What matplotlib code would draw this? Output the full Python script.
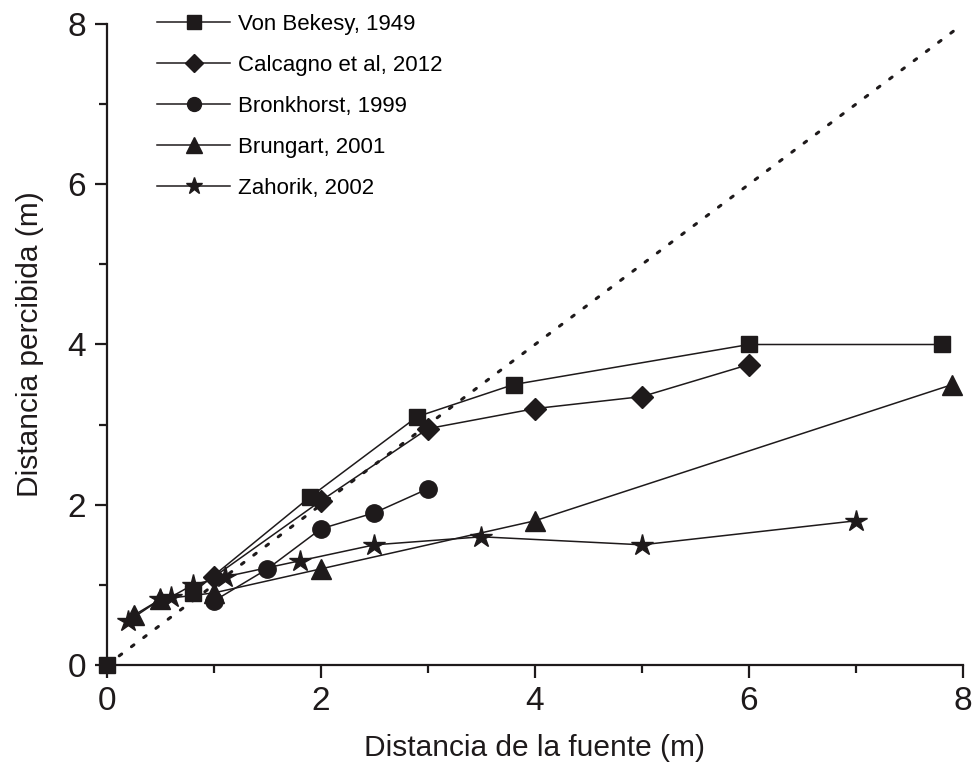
import numpy as np
import matplotlib.pyplot as plt

plt.rcParams['font.family'] = ['Liberation Sans', 'DejaVu Sans']

# distancia de la fuente (m) / distancia percibida (m)
bekesy_x = [0.0, 0.8, 1.9, 2.9, 3.8, 6.0, 7.8]
bekesy_y = [0.0, 0.9, 2.1, 3.1, 3.5, 4.0, 4.0]

calcagno_x = [1.0, 2.0, 3.0, 4.0, 5.0, 6.0]
calcagno_y = [1.1, 2.05, 2.95, 3.2, 3.35, 3.75]

bronkhorst_x = [1.0, 1.5, 2.0, 2.5, 3.0]
bronkhorst_y = [0.8, 1.2, 1.7, 1.9, 2.2]

brungart_x = [0.25, 0.5, 1.0, 2.0, 4.0, 7.9]
brungart_y = [0.62, 0.82, 0.9, 1.2, 1.8, 3.5]

zahorik_x = [0.2, 0.5, 0.6, 0.8, 1.1, 1.8, 2.5, 3.5, 5.0, 7.0]
zahorik_y = [0.55, 0.82, 0.85, 1.0, 1.1, 1.3, 1.5, 1.6, 1.5, 1.8]

ideal = [0, 8]

c = '#1e1a1b'

fig = plt.figure(figsize=(9.79, 7.64), dpi=100)
ax = fig.add_axes([107/979, 1 - 665/764, 856/979, 641/764])

# linea de respuesta ideal
ax.plot(ideal, ideal, color=c, lw=2.2, linestyle=(0, (1, 4)), dash_capstyle='round')

kw = dict(color=c, lw=1.1, clip_on=False)
# el punto en el origen va sin linea
ax.plot(bekesy_x[1:], bekesy_y[1:], marker='s', ms=12, **kw, label='Von Bekesy, 1949')
ax.plot(bekesy_x[:1], bekesy_y[:1], marker='s', ms=12, ls='none', color=c, clip_on=False)
ax.plot(calcagno_x, calcagno_y, marker='D', ms=11, **kw, label='Calcagno et al, 2012')
ax.plot(bronkhorst_x, bronkhorst_y, marker='o', ms=12.5, **kw, label='Bronkhorst, 1999')
ax.plot(brungart_x, brungart_y, marker='^', ms=14, **kw, label='Brungart, 2001')
ax.plot(zahorik_x, zahorik_y, marker='*', ms=16, **kw, label='Zahorik, 2002')

ax.set_xlim(0, 8)
ax.set_ylim(0, 8)
ax.set_xticks([0, 2, 4, 6, 8])
ax.set_yticks([0, 2, 4, 6, 8])
ax.set_xticks([1, 3, 5, 7], minor=True)
ax.set_yticks([1, 3, 5, 7], minor=True)
ax.tick_params(which='major', direction='out', length=9, width=1.6, labelsize=24, pad=6, color=c, labelcolor=c)
ax.tick_params(which='minor', direction='out', length=5.5, width=1.6, color=c)

for s in ['top', 'right']:
    ax.spines[s].set_visible(False)
for s in ['left', 'bottom']:
    ax.spines[s].set_linewidth(1.6)
    ax.spines[s].set_color(c)

ax.set_xlabel('Distancia de la fuente (m)', fontsize=21.5, color=c, labelpad=12)
ax.set_ylabel('Distancia percibida (m)', fontsize=21.5, color=c, labelpad=17)

ax.legend(loc='upper left', bbox_to_anchor=(157/979, 1 - 14/764), bbox_transform=fig.transFigure,
          frameon=False, fontsize=16, handlelength=3.3, handletextpad=0.35,
          labelspacing=0.9, markerscale=0.8, borderaxespad=0, borderpad=0)

fig.savefig('out.png', dpi=100)
